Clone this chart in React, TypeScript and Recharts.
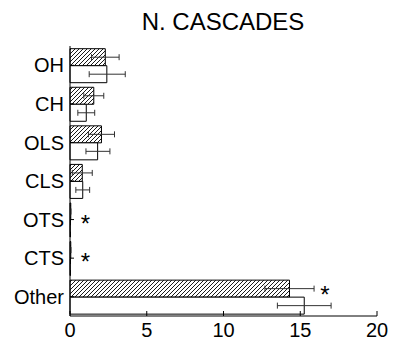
import React from 'react';
import {
  BarChart,
  Bar,
  XAxis,
  YAxis,
  ErrorBar,
  ReferenceDot,
} from 'recharts';

const categories = ['OH', 'CH', 'OLS', 'CLS', 'OTS', 'CTS', 'Other'];
const hatchedValues = [2.3, 1.55, 2.05, 0.8, 0.05, 0.05, 14.3];
const hatchedErr = [[0.9, 0.9], [0.65, 0.65], [0.85, 0.85], [0.65, 0.65], [0, 0], [0, 0], [1.6, 1.6]];
const openValues = [2.4, 1.06, 1.8, 0.83, 0.03, 0.03, 15.26];
const openErr = [[1.15, 1.2], [0.55, 0.55], [0.76, 0.8], [0.45, 0.45], [0, 0], [0, 0], [1.75, 1.75]];
const xTicks = [0, 5, 10, 15, 20];
// asterisks: onHatched = marks the upper (hatched) bar rather than the whole category
const stars = [
  { cat: 'OTS', x: 1.0, onHatched: false },
  { cat: 'CTS', x: 1.0, onHatched: false },
  { cat: 'Other', x: 16.6, onHatched: true },
];

const data = categories.map((name, i) => ({
  name,
  a: hatchedValues[i],
  aErr: hatchedErr[i],
  b: openValues[i],
  bErr: openErr[i],
}));

const font = '"Liberation Sans", Arial, sans-serif';

const Star = (props: any) => (
  <text
    x={props.cx}
    y={props.cy + (props.onHatched ? 6 : 12)}
    textAnchor="middle"
    fontSize={24}
    fontFamily={font}
    fill="#000"
  >
    *
  </text>
);

export default function App() {
  return (
    <div style={{ position: 'absolute', left: 0, top: 0, width: 393, height: 346, background: '#fff' }}>
      <div
        style={{
          position: 'absolute',
          left: 70,
          width: 306,
          top: 8,
          textAlign: 'center',
          fontFamily: font,
          fontSize: 24,
          color: '#000',
          whiteSpace: 'nowrap',
        }}
      >
        N. CASCADES
      </div>
      <BarChart
        width={393}
        height={346}
        data={data}
        layout="vertical"
        margin={{ top: 46, right: 16, bottom: 0, left: 0 }}
        barCategoryGap="7%"
        barGap={0}
        style={{ position: 'absolute', left: 0, top: 0 }}
      >
        <defs>
          <pattern id="hatch" width="4" height="4" patternUnits="userSpaceOnUse">
            <rect width="4" height="4" fill="#fff" />
            <path d="M-1,1 l2,-2 M0,4 l4,-4 M3,5 l2,-2" stroke="#000" strokeWidth={0.9} />
          </pattern>
        </defs>
        <XAxis
          xAxisId="b"
          type="number"
          domain={[0, 20]}
          ticks={xTicks}
          orientation="bottom"
          height={30}
          tickSize={-5}
          tickMargin={12}
          stroke="#000"
          tick={{ fill: '#000', fontSize: 20, fontFamily: font }}
        />
        <XAxis
          xAxisId="t"
          type="number"
          domain={[0, 20]}
          ticks={xTicks}
          orientation="top"
          height={0}
          tick={false}
          tickSize={-5}
          stroke="#000"
        />
        <YAxis
          yAxisId="l"
          type="category"
          dataKey="name"
          orientation="left"
          width={70}
          tickSize={-4}
          tickMargin={10}
          stroke="#000"
          tick={{ fill: '#000', fontSize: 20, fontFamily: font }}
        />
        <YAxis
          yAxisId="r"
          type="category"
          dataKey="name"
          orientation="right"
          width={0}
          tick={false}
          tickSize={-4}
          stroke="#000"
        />
        <Bar
          xAxisId="b"
          yAxisId="l"
          dataKey="a"
          fill="url(#hatch)"
          stroke="#000"
          strokeWidth={1}
          isAnimationActive={false}
        >
          <ErrorBar dataKey="aErr" direction="x" width={3} stroke="#333" strokeWidth={1} />
        </Bar>
        <Bar
          xAxisId="b"
          yAxisId="l"
          dataKey="b"
          fill="#fff"
          stroke="#000"
          strokeWidth={1}
          isAnimationActive={false}
        >
          <ErrorBar dataKey="bErr" direction="x" width={3} stroke="#333" strokeWidth={1} />
        </Bar>
        {stars.map((s) => (
          <ReferenceDot
            key={s.cat}
            xAxisId="b"
            yAxisId="l"
            x={s.x}
            y={s.cat}
            r={0}
            shape={(p: any) => <Star {...p} onHatched={s.onHatched} />}
            ifOverflow="visible"
          />
        ))}
      </BarChart>
    </div>
  );
}
